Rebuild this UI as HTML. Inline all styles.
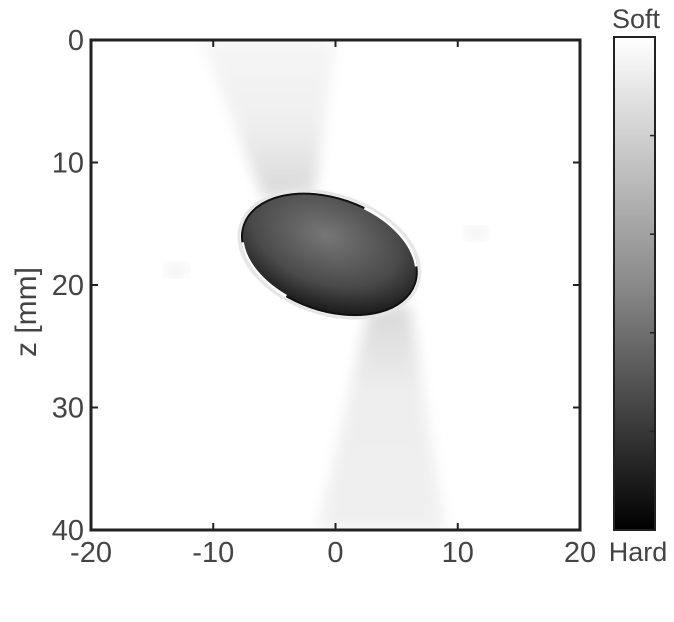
<!DOCTYPE html>
<html><head><meta charset="utf-8">
<style>
body{margin:0;background:#fff;width:674px;height:617px;overflow:hidden;font-family:"Liberation Sans",sans-serif;}
svg text{font-family:"Liberation Sans","DejaVu Sans",sans-serif;fill:#444;}
</style></head>
<body>
<svg id="chart" width="674" height="617" viewBox="0 0 674 617" xmlns="http://www.w3.org/2000/svg">
<defs>
  <radialGradient id="inc" cx="0.45" cy="0.35" r="0.7">
    <stop offset="0" stop-color="#777"/>
    <stop offset="0.6" stop-color="#4a4a4a"/>
    <stop offset="1" stop-color="#111"/>
  </radialGradient>
  <linearGradient id="cb" x1="0" y1="0" x2="0" y2="1">
    <stop offset="0" stop-color="#ffffff"/>
    <stop offset="0.5" stop-color="#8a8a8a"/>
    <stop offset="1" stop-color="#000000"/>
  </linearGradient>
  <linearGradient id="coneUp" x1="0" y1="1" x2="0" y2="0">
    <stop offset="0" stop-color="#d8d8d8"/>
    <stop offset="0.5" stop-color="#f0f0f0"/>
    <stop offset="1" stop-color="#f5f5f5"/>
  </linearGradient>
  <linearGradient id="coneDn" x1="0" y1="0" x2="0" y2="1">
    <stop offset="0" stop-color="#d8d8d8"/>
    <stop offset="0.4" stop-color="#eeeeee"/>
    <stop offset="1" stop-color="#f0f0f0"/>
  </linearGradient>
  <filter id="blur"><feGaussianBlur stdDeviation="7"/></filter>
  <clipPath id="plotclip"><rect x="91" y="40" width="489" height="490"/></clipPath>
</defs>
<g id="plot" clip-path="url(#plotclip)"></g>
<g id="axes"></g>
<g id="colorbar"></g>
</svg>
<script>
var xTicks=[-20,-10,0,10,20];
var yTicks=[0,10,20,30,40];
var cbTickFrac=[0.2,0.4,0.6,0.8];
var inclusionCenter=[-0.5,17.5];
var inclusionAxes=[7.4,4.6];
var inclusionAngle=[19];
var cbLabels=["Soft","Hard"];
var yLabel=["z [mm]"];

var NS="http://www.w3.org/2000/svg";
var X0=91,X1=580,Y0=40,Y1=530;
function sx(v){return X0+(v-(-20))/40*(X1-X0);}
function sy(v){return Y0+(v-0)/40*(Y1-Y0);}
function mk(tag,attrs,parent){var e=document.createElementNS(NS,tag);for(var k in attrs)e.setAttribute(k,attrs[k]);parent.appendChild(e);return e;}
var plot=document.getElementById('plot'),axes=document.getElementById('axes'),cbg=document.getElementById('colorbar');

var bg=mk('rect',{x:X0,y:Y0,width:X1-X0,height:Y1-Y0,fill:'#fff'},plot);



var cx=sx(inclusionCenter[0]),cy=sy(inclusionCenter[1]);
var rx=inclusionAxes[0]*12.22,ry=inclusionAxes[1]*12.22;
var up=mk('polygon',{points:(cx-65)+','+(cy-55)+' '+(cx-15)+','+(cy-62)+' '+sx(0)+','+Y0+' '+sx(-11)+','+Y0,fill:'url(#coneUp)',filter:'url(#blur)'},plot);


var dn=mk('polygon',{points:(cx+40)+','+(cy+55)+' '+(cx+80)+','+(cy+50)+' '+sx(9)+','+Y1+' '+sx(-1.5)+','+Y1,fill:'url(#coneDn)',filter:'url(#blur)'},plot);


var s1=mk('ellipse',{cx:sx(-13),cy:sy(18.8),rx:12,ry:7,fill:'#f0f0f0',filter:'url(#blur)'},plot);


var s2=mk('ellipse',{cx:sx(11.5),cy:sy(15.8),rx:12,ry:7,fill:'#f0f0f0',filter:'url(#blur)'},plot);



var g=mk('g',{transform:'rotate('+inclusionAngle[0]+' '+cx+' '+cy+')'},plot);
var halo=mk('ellipse',{cx:cx,cy:cy,rx:rx+3,ry:ry+3,fill:'none',stroke:'#e6e6e6','stroke-width':3},g);


var el=mk('ellipse',{cx:cx,cy:cy,rx:rx,ry:ry,fill:'url(#inc)',stroke:'#111','stroke-width':2},g);


var wl=mk('path',{d:'M'+(cx+rx*0.2)+','+(cy-ry*0.98)+' A'+rx+','+ry+' 0 0 1 '+(cx+rx*0.95)+','+(cy-ry*0.3),fill:'none',stroke:'#fff','stroke-width':2.5},g);


var wl2=mk('path',{d:'M'+(cx-rx*0.95)+','+(cy+ry*0.3)+' A'+rx+','+ry+' 0 0 0 '+(cx-rx*0.3)+','+(cy+ry*0.95),fill:'none',stroke:'#fff','stroke-width':2.5},g);



var frame=mk('rect',{x:X0,y:Y0,width:X1-X0,height:Y1-Y0,fill:'none',stroke:'#222','stroke-width':3},axes);


xTicks.forEach(function(t){
  var x=sx(t);
  var tk=mk('path',{d:'M'+x+','+Y1+'v-7M'+x+','+Y0+'v7',stroke:'#222','stroke-width':2},axes);
  
  
  var tx=mk('text',{x:x,y:562,'text-anchor':'middle','font-size':29},axes);tx.textContent=t;
  
  
});
yTicks.forEach(function(t){
  var y=sy(t);
  var tk=mk('path',{d:'M'+X0+','+y+'h7M'+X1+','+y+'h-7',stroke:'#222','stroke-width':2},axes);
  
  
  var tx=mk('text',{x:84,y:y+10,'text-anchor':'end','font-size':29},axes);tx.textContent=t;
  
  
});
var yl=mk('text',{x:0,y:0,'text-anchor':'middle','font-size':30,transform:'translate(36,312) rotate(-90)'},axes);
yl.textContent=yLabel[0];



var CX=614,CW=41,CY0=37,CY1=530;
var cbr=mk('rect',{x:CX,y:CY0,width:CW,height:CY1-CY0,fill:'url(#cb)',stroke:'#222','stroke-width':2},cbg);


cbTickFrac.forEach(function(f){
  var y=CY0+f*(CY1-CY0);
  var tk=mk('path',{d:'M'+(CX+CW)+','+y+'h-5',stroke:'#222','stroke-width':1.5},cbg);
  
  
});
var st=mk('text',{x:636,y:28,'text-anchor':'middle','font-size':27},cbg);st.textContent=cbLabels[0];


var hd=mk('text',{x:638,y:561,'text-anchor':'middle','font-size':27},cbg);hd.textContent=cbLabels[1];


</script>
</body></html>
